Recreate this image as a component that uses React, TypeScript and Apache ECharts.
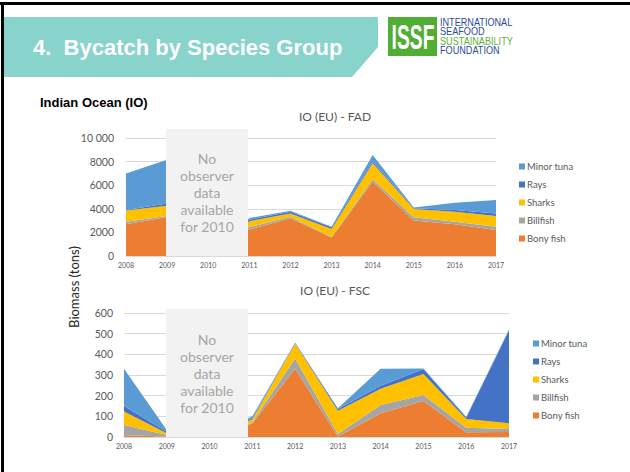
import React, { useEffect, useRef } from 'react';
import * as echarts from 'echarts';

const years = ['2008', '2009', '2010', '2011', '2012', '2013', '2014', '2015', '2016', '2017'];
const legendOrder = ['Minor tuna', 'Rays', 'Sharks', 'Billfish', 'Bony fish'];

// IO (EU) - FAD, tons
const fadBonyFish = [2700, 3300, 0, 2250, 3200, 1570, 6300, 3000, 2700, 2200];
const fadBillfish = [200, 100, 0, 200, 130, 30, 200, 280, 200, 280];
const fadSharks = [950, 850, 0, 500, 280, 690, 1350, 700, 850, 900];
const fadRays = [50, 200, 0, 120, 140, 140, 130, 60, 150, 230];
const fadMinorTuna = [3100, 3700, 0, 150, 90, 50, 570, 60, 620, 1130];

// IO (EU) - FSC, tons
const fscBonyFish = [8, 2, 0, 65, 330, 2, 115, 174, 23, 24];
const fscBillfish = [50, 8, 0, 5, 50, 12, 40, 29, 22, 15];
const fscSharks = [65, 8, 0, 15, 73, 113, 78, 102, 42, 28];
const fscRays = [27, 8, 0, 5, 2, 8, 15, 24, 6, 450];
const fscMinorTuna = [180, 8, 0, 10, 2, 4, 82, 3, 5, 3];

const fadTickLabels = ['0', '2000', '4000', '6000', '8000', '10 000'];
const fscTickLabels = ['0', '100', '200', '300', '400', '500', '600'];

const colors: Record<string, string> = {
  'Bony fish': '#ED7D31',
  Billfish: '#A5A5A5',
  Sharks: '#FFC000',
  Rays: '#4472C4',
  'Minor tuna': '#5B9BD5',
};

const CF = 'Lato, "Open Sans", sans-serif';
const AF = '"Liberation Sans", Arial, sans-serif';

function makeSeries(idx: number, stack: string, data: Record<string, number[]>) {
  return ['Bony fish', 'Billfish', 'Sharks', 'Rays', 'Minor tuna'].map((name) => ({
    type: 'line',
    name,
    xAxisIndex: idx,
    yAxisIndex: idx,
    stack,
    data: data[name],
    symbol: 'none',
    showSymbol: false,
    lineStyle: { width: 0 },
    areaStyle: { color: colors[name], opacity: 1 },
    itemStyle: { color: colors[name] },
    z: 2,
  }));
}

export default function App() {
  const ref = useRef<HTMLDivElement>(null);
  useEffect(() => {
    if (!ref.current) return;
    const chart = echarts.init(ref.current, undefined, { renderer: 'svg' });
    const xAxisCommon = {
      type: 'category',
      data: years,
      boundaryGap: false,
      axisLine: { lineStyle: { color: '#D9D9D9', width: 1 } },
      axisTick: { show: false },
      axisLabel: { color: '#595959', fontSize: 7, fontFamily: CF, margin: 5 },
    };
    const yAxisCommon = {
      type: 'value',
      min: 0,
      axisLine: { show: false },
      axisTick: { show: false },
      splitLine: { lineStyle: { color: '#D9D9D9', width: 1 } },
    };
    const noDataBox = (y0: number, y1: number) => [
      {
        type: 'rect',
        z: 100,
        shape: { x: 166, y: y0, width: 82, height: y1 - y0 },
        style: { fill: '#F2F2F2' },
      },
      {
        type: 'text',
        z: 101,
        x: 207,
        y: (y0 + y1) / 2,
        style: {
          text: 'No\nobserver\ndata\navailable\nfor 2010',
          fill: '#A6A6A6',
          font: `14px ${CF}`,
          lineHeight: 17,
          align: 'center',
          verticalAlign: 'middle',
        },
      },
    ];
    const legendCommon = {
      data: legendOrder,
      orient: 'vertical',
      icon: 'rect',
      itemWidth: 6,
      itemHeight: 6,
      itemGap: 7,
      textStyle: { color: '#595959', fontSize: 9.5, fontFamily: CF, lineHeight: 11, padding: [0, 0, 0, -3] },
    };
    const option: any = {
      animation: false,
      backgroundColor: '#ffffff',
      grid: [
        { left: 126, right: 134, top: 138, bottom: 216 },
        { left: 124, right: 121, top: 313, bottom: 35 },
      ],
      xAxis: [
        { ...xAxisCommon, gridIndex: 0 },
        { ...xAxisCommon, gridIndex: 1 },
      ],
      yAxis: [
        {
          ...yAxisCommon,
          gridIndex: 0,
          max: 10000,
          interval: 2000,
          axisLabel: {
            color: '#595959',
            fontSize: 10.5,
            fontFamily: CF,
            margin: 12,
            formatter: (v: number) => fadTickLabels[Math.round(v / 2000)],
          },
        },
        {
          ...yAxisCommon,
          gridIndex: 1,
          max: 600,
          interval: 100,
          axisLabel: {
            color: '#595959',
            fontSize: 10.5,
            fontFamily: CF,
            margin: 11,
            formatter: (v: number) => fscTickLabels[Math.round(v / 100)],
          },
        },
      ],
      title: [
        {
          text: 'IO (EU) - FAD',
          left: 330,
          top: 105,
          textAlign: 'center',
          textStyle: { color: '#595959', fontSize: 12, fontWeight: 'normal', fontFamily: CF },
        },
        {
          text: 'IO (EU) - FSC',
          left: 330,
          top: 279,
          textAlign: 'center',
          textStyle: { color: '#595959', fontSize: 12, fontWeight: 'normal', fontFamily: CF },
        },
      ],
      legend: [
        { ...legendCommon, left: 514, top: 156 },
        { ...legendCommon, left: 528, top: 333 },
      ],
      series: [
        ...makeSeries(0, 'fad', {
          'Bony fish': fadBonyFish,
          Billfish: fadBillfish,
          Sharks: fadSharks,
          Rays: fadRays,
          'Minor tuna': fadMinorTuna,
        }),
        ...makeSeries(1, 'fsc', {
          'Bony fish': fscBonyFish,
          Billfish: fscBillfish,
          Sharks: fscSharks,
          Rays: fscRays,
          'Minor tuna': fscMinorTuna,
        }),
      ],
      graphic: [
        // slide frame
        { type: 'rect', z: 100, shape: { x: 0, y: 2, width: 630, height: 3 }, style: { fill: '#000' } },
        { type: 'rect', z: 100, shape: { x: 1, y: 2, width: 3, height: 470 }, style: { fill: '#000' } },
        // banner
        {
          type: 'polygon',
          z: 100,
          shape: { points: [[4, 17], [378, 17], [378, 47], [352, 77], [4, 77]] },
          style: { fill: '#88D3CC' },
        },
        {
          type: 'text',
          z: 101,
          x: 33,
          y: 47,
          style: {
            text: '4.  Bycatch by Species Group',
            fill: '#ffffff',
            font: `bold 22px ${AF}`,
            verticalAlign: 'middle',
          },
        },
        // logo
        { type: 'rect', z: 100, shape: { x: 388, y: 17, width: 49, height: 39 }, style: { fill: '#4FAE33' } },
        {
          type: 'text',
          z: 101,
          x: 413,
          y: 37,
          scaleX: 0.55,
          style: { text: 'ISSF', fill: '#fff', font: `bold 35px ${AF}`, align: 'center', verticalAlign: 'middle' },
        },
        {
          type: 'text', z: 101, x: 440, y: 22.5, scaleX: 0.83,
          style: { text: 'INTERNATIONAL', fill: '#2B4B9E', font: `11px ${AF}`, verticalAlign: 'middle' },
        },
        {
          type: 'text', z: 101, x: 440, y: 31.5, scaleX: 0.83,
          style: { text: 'SEAFOOD', fill: '#2B4B9E', font: `11px ${AF}`, verticalAlign: 'middle' },
        },
        {
          type: 'text', z: 101, x: 440, y: 41, scaleX: 0.83,
          style: { text: 'SUSTAINABILITY', fill: '#5DB133', font: `11px ${AF}`, verticalAlign: 'middle' },
        },
        {
          type: 'text', z: 101, x: 440, y: 50.5, scaleX: 0.83,
          style: { text: 'FOUNDATION', fill: '#2B4B9E', font: `11px ${AF}`, verticalAlign: 'middle' },
        },
        {
          type: 'text',
          z: 101,
          x: 40,
          y: 102,
          style: { text: 'Indian Ocean (IO)', fill: '#000', font: `bold 13px ${AF}`, verticalAlign: 'middle' },
        },
        {
          type: 'text',
          z: 101,
          x: 74,
          y: 287,
          rotation: Math.PI / 2,
          style: {
            text: 'Biomass (tons)',
            fill: '#262626',
            font: `13px ${CF}`,
            align: 'center',
            verticalAlign: 'middle',
          },
        },
        ...noDataBox(129, 256),
        ...noDataBox(309, 437),
      ],
    };
    chart.setOption(option);
    return () => chart.dispose();
  }, []);
  return (
    <div
      ref={ref}
      style={{ position: 'fixed', left: 0, top: 0, width: 630, height: 472, background: '#fff' }}
    />
  );
}
